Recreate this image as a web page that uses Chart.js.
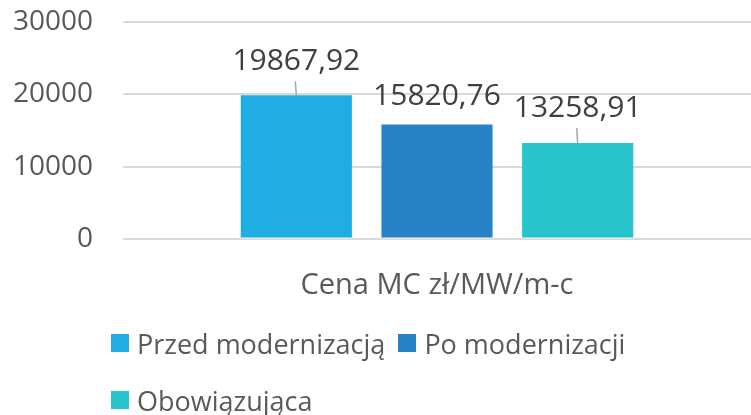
<!DOCTYPE html>
<html lang="pl">
<head>
  <meta charset="UTF-8">
  <title>Cena MC</title>
  <script src="https://cdn.jsdelivr.net/npm/chart.js"></script>
  <style>
    body {
      margin: 0;
      background: #ffffff;
      font-family: "Open Sans", sans-serif;
    }
    #wrap {
      position: relative;
      width: 751px;
      height: 415px;
    }
    #legenda {
      position: absolute;
      left: 111px;
      top: 325px;
      width: 600px;
      display: flex;
      flex-wrap: wrap;
      row-gap: 21px;
      column-gap: 13px;
    }
    .pozycja {
      display: flex;
      align-items: center;
      height: 36px;
      font-size: 27px;
      color: #595959;
    }
    .kwadrat {
      width: 18px;
      height: 18px;
      margin-right: 8px;
    }
  </style>
</head>
<body>
  <div id="wrap">
    <canvas id="wykres" width="751" height="415"></canvas>
    <div id="legenda"></div>
  </div>

  <script>
    const kategorie = ["Cena MC zł/MW/m-c"];
    const serie = ["Przed modernizacją", "Po modernizacji", "Obowiązująca"];
    const wartosci = [19867.92, 15820.76, 13258.91];
    const yTicki = [0, 10000, 20000, 30000];
    const kolory = ["#1FADE3", "#2882C6", "#28C4CC"];

    // przesunięcie etykiet nad słupkami (jak w oryginale, ręcznie przesunięte)
    const unoszenie = [34, 28, 35];

    const etykiety = {
      id: "etykiety",
      afterDatasetsDraw(chart) {
        const ctx = chart.ctx;
        const y0 = chart.scales.y.getPixelForValue(0);
        ctx.save();
        chart.data.datasets.forEach((ds, i) => {
          const bar = chart.getDatasetMeta(i).data[0];
          // jasna linia zera na słupku
          ctx.strokeStyle = "rgba(255,255,255,0.45)";
          ctx.lineWidth = 2;
          ctx.beginPath();
          ctx.moveTo(bar.x - bar.width / 2, y0 - 1);
          ctx.lineTo(bar.x + bar.width / 2, y0 - 1);
          ctx.stroke();

          const tekst = ds.data[0].toFixed(2).replace(".", ",");
          const ty = bar.y - unoszenie[i];
          ctx.font = "30px 'Open Sans'";
          ctx.fillStyle = "#404040";
          ctx.textAlign = "center";
          ctx.textBaseline = "middle";
          ctx.fillText(tekst, bar.x, ty);
          if (unoszenie[i] > 30) {
            ctx.strokeStyle = "#a6a6a6";
            ctx.lineWidth = 1.5;
            ctx.beginPath();
            ctx.moveTo(bar.x - 1, ty + 20);
            ctx.lineTo(bar.x, bar.y);
            ctx.stroke();
          }
        });
        ctx.restore();
      }
    };

    const chart = new Chart(document.getElementById("wykres"), {
      type: "bar",
      data: {
        labels: kategorie,
        datasets: serie.map((nazwa, i) => ({
          label: nazwa,
          data: [wartosci[i]],
          backgroundColor: kolory[i],
          categoryPercentage: 0.672,
          barPercentage: 0.79
        }))
      },
      options: {
        responsive: false,
        animation: false,
        layout: {
          padding: { top: 22, right: 0, bottom: 114, left: 0 }
        },
        plugins: {
          legend: { display: false },
          tooltip: { enabled: false }
        },
        scales: {
          x: {
            grid: { display: false, drawTicks: false },
            border: { display: false },
            afterFit: (s) => { s.height = 62; },
            ticks: {
              padding: 29,
              color: "#595959",
              font: { family: "Open Sans", size: 29 }
            }
          },
          y: {
            min: 0,
            max: 30000,
            afterBuildTicks: (s) => { s.ticks = yTicki.map(v => ({ value: v })); },
            afterFit: (s) => {
              s.width = 123;
              s.paddingTop = 0;
              s.paddingBottom = 0;
            },
            grid: { color: "#d9d9d9", lineWidth: 2, drawTicks: false },
            border: { display: false },
            ticks: {
              padding: 30,
              color: "#595959",
              font: { family: "Open Sans", size: 28 },
              callback: (v) => String(v)
            }
          }
        }
      },
      plugins: [etykiety]
    });

    const legenda = document.getElementById("legenda");
    serie.forEach((nazwa, i) => {
      const el = document.createElement("div");
      el.className = "pozycja";
      el.innerHTML = '<span class="kwadrat" style="background:' + kolory[i] + '"></span>' + nazwa;
      legenda.appendChild(el);
    });
  </script>
</body>
</html>
